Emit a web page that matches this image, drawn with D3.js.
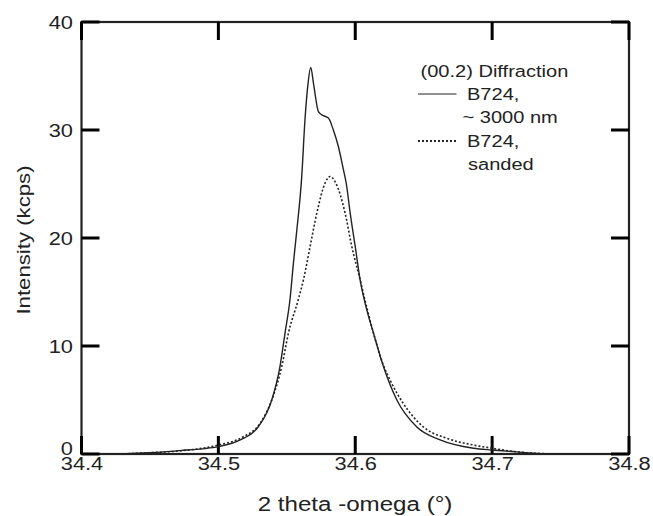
<!DOCTYPE html>
<html>
<head>
<meta charset="utf-8">
<script src="https://cdn.jsdelivr.net/npm/d3@7"></script>
<style>
  body { margin: 0; background: #fff; }
  text { font-family: "Liberation Sans", Arial, sans-serif; fill: #222; }
</style>
</head>
<body>
<div id="chart"></div>
<script>
// (00.2) peak, 2theta-omega scans
var thetaFilm = [34.428, 34.445, 34.46, 34.477, 34.49, 34.5, 34.516, 34.529, 34.539, 34.545,
  34.5487, 34.5524, 34.5548, 34.5573, 34.5608, 34.5634, 34.5655, 34.5675, 34.5695,
  34.5731, 34.5756, 34.5804, 34.584, 34.5877, 34.5914, 34.5935, 34.5963, 34.6, 34.6036,
  34.6075, 34.6133, 34.6206, 34.6304, 34.645, 34.662, 34.6864, 34.7, 34.718, 34.73, 34.745];
var intFilm = [0, 0.1, 0.2, 0.37, 0.5, 0.68, 1.3, 2.5, 5.0, 8.1,
  11.2, 14.4, 17.65, 20.7, 25.5, 31.2, 34.3, 35.8, 34.3,
  31.7, 31.4, 31.1, 30.0, 28.45, 26.3, 25.0, 22.3, 19.2, 16.1,
  13.8, 11.2, 8.1, 5.0, 2.5, 1.3, 0.53, 0.37, 0.2, 0.08, 0];

var thetaSanded = [34.428, 34.45, 34.473, 34.5, 34.5183, 34.5305, 34.539, 34.5463, 34.5512,
  34.5584, 34.5621, 34.567, 34.5719, 34.578, 34.5816, 34.5853, 34.5926, 34.5975, 34.6036,
  34.607, 34.6133, 34.6206, 34.6254, 34.635, 34.6498, 34.667, 34.6864, 34.7, 34.718, 34.745];
var intSanded = [0, 0.12, 0.3, 0.83, 1.6, 2.84, 5.0, 8.1, 11.2,
  14.3, 16.1, 19.2, 22.3, 25.1, 25.7, 25.2, 22.3, 19.2, 16.1,
  14.3, 11.2, 8.2, 6.85, 4.7, 2.5, 1.45, 0.83, 0.53, 0.2, 0];

var xTicks = [34.4, 34.5, 34.6, 34.7, 34.8];
var yTicks = [0, 10, 20, 30, 40];
var legendTitle = "(00.2) Diffraction";
var legendFilm = ["B724,", "~ 3000 nm"];
var legendSanded = ["B724,", "sanded"];

var W = 653, H = 516;
var margin = {top: 22, right: 24, bottom: 62, left: 81.5};
var plotW = W - margin.left - margin.right,
    plotH = H - margin.top - margin.bottom;
var sx = 1.18;   // the original lettering is wider than Arial
var tickLen = 18;

var svg = d3.select("#chart").append("svg")
    .attr("width", W).attr("height", H)
  .append("g")
    .attr("transform", "translate(" + margin.left + "," + margin.top + ")");

var xScale = d3.scaleLinear().domain([34.4, 34.8]).range([0, plotW]);
var yScale = d3.scaleLinear().domain([0, 40]).range([plotH, 0]);

svg.append("rect")
    .attr("width", plotW).attr("height", plotH)
    .attr("fill", "none").attr("stroke", "#222").attr("stroke-width", 2.2);

// inward ticks, drawn as thin filled rects
var tickG = svg.append("g").attr("fill", "#000");
tickG.selectAll("rect.xb").data(xTicks).enter().append("rect")
    .attr("class", "xb")
    .attr("x", function(d) { return xScale(d) - 1.5; })
    .attr("y", plotH - tickLen).attr("width", 3).attr("height", tickLen);
tickG.selectAll("rect.xt").data(xTicks).enter().append("rect")
    .attr("class", "xt")
    .attr("x", function(d) { return xScale(d) - 1.5; })
    .attr("y", 0).attr("width", 3).attr("height", tickLen);
tickG.selectAll("rect.yl").data(yTicks).enter().append("rect")
    .attr("class", "yl")
    .attr("x", 0).attr("y", function(d) { return yScale(d) - 1.5; })
    .attr("width", tickLen).attr("height", 3);
tickG.selectAll("rect.yr").data(yTicks).enter().append("rect")
    .attr("class", "yr")
    .attr("x", plotW - tickLen).attr("y", function(d) { return yScale(d) - 1.5; })
    .attr("width", tickLen).attr("height", 3);

// tick labels from the axes
var xAxisG = svg.append("g")
    .attr("transform", "translate(0," + plotH + ")")
    .call(d3.axisBottom(xScale).tickValues(xTicks).tickSize(0).tickFormat(d3.format(".1f")));
xAxisG.selectAll("text")
    .attr("y", 16).attr("dy", 0)
    .style("font-size", "18.5px")
    .attr("transform", "scale(" + sx + ",1)");

var yAxisG = svg.append("g")
    .call(d3.axisLeft(yScale).tickValues(yTicks).tickSize(0));
yAxisG.selectAll("text")
    .attr("x", -8.5 / sx)
    .attr("dy", function(d) { return d === 0 ? "0em" : "0.36em"; })
    .style("font-size", "18.5px")
    .attr("transform", "scale(" + sx + ",1)");

svg.selectAll(".domain").remove();

// curves
var line = d3.line()
    .curve(d3.curveMonotoneX)
    .x(function(d) { return xScale(d[0]); })
    .y(function(d) { return yScale(d[1]); });

svg.append("path")
    .datum(d3.zip(thetaSanded, intSanded))
    .attr("d", line)
    .attr("fill", "none").attr("stroke", "#222")
    .attr("stroke-width", 1.6).attr("stroke-dasharray", "2,2");

svg.append("path")
    .datum(d3.zip(thetaFilm, intFilm))
    .attr("d", line)
    .attr("fill", "none").attr("stroke", "#222")
    .attr("stroke-width", 1.4);

// axis titles
svg.append("text")
    .attr("transform", "translate(" + (355 - margin.left) + "," + (511 - margin.top) + ") scale(1.15,1)")
    .attr("text-anchor", "middle")
    .style("font-size", "21px")
    .text("2 theta -omega (\u00b0)");

svg.append("text")
    .attr("transform", "translate(" + (30 - margin.left) + "," + (240 - margin.top) + ") rotate(-90) scale(1.2,1)")
    .attr("text-anchor", "middle")
    .style("font-size", "18.5px")
    .text("Intensity (kcps)");

// legend
var leg = svg.append("g")
    .attr("transform", "translate(" + (418 - margin.left) + "," + (77 - margin.top) + ")");

function legText(tx, ty, s) {
  leg.append("text")
      .attr("transform", "translate(" + tx + "," + ty + ") scale(" + sx + ",1)")
      .style("font-size", "17px")
      .text(s);
}

legText(2.5, 0, legendTitle);
leg.append("line").attr("x1", 0).attr("x2", 38.5).attr("y1", 17).attr("y2", 17)
    .attr("stroke", "#222").attr("stroke-width", 1.2);
legText(49, 23, legendFilm[0]);
legText(44.5, 46, legendFilm[1]);
leg.append("line").attr("x1", 0).attr("x2", 38.5).attr("y1", 64).attr("y2", 64)
    .attr("stroke", "#222").attr("stroke-width", 1.8).attr("stroke-dasharray", "2,2");
legText(49, 70, legendSanded[0]);
legText(50, 93, legendSanded[1]);
</script>
</body>
</html>
